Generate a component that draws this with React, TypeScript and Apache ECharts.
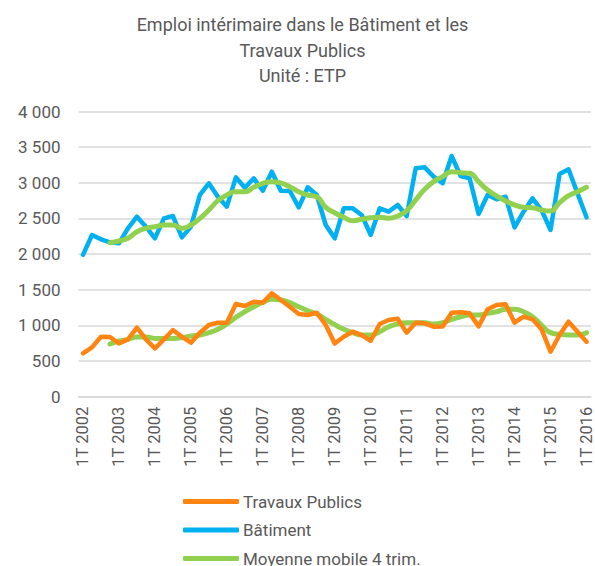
import React, { useEffect, useRef } from "react";
import * as echarts from "echarts";

const years = [2002, 2003, 2004, 2005, 2006, 2007, 2008, 2009, 2010, 2011, 2012, 2013, 2014, 2015, 2016];
const quarters: string[] = [];
years.forEach((y) => {
  for (let q = 1; q <= 4; q++) {
    if (y === 2016 && q > 1) break;
    quarters.push(`${q}T ${y}`);
  }
});

const batiment = [
  1990, 2268, 2207, 2165, 2151, 2362, 2525, 2384, 2221, 2502,
  2534, 2235, 2384, 2829, 2993, 2805, 2665, 3077, 2931, 3063,
  2889, 3156, 2889, 2885, 2656, 2937, 2829, 2408, 2221, 2642,
  2642, 2548, 2268, 2642, 2595, 2689, 2534, 3203, 3217, 3086,
  2993, 3376, 3095, 3063, 2562, 2829, 2768, 2805, 2375, 2595,
  2782, 2618, 2338, 3123, 3189, 2852, 2516,
];

const travauxPublics = [
  608, 692, 841, 837, 748, 804, 968, 804, 678, 804,
  935, 841, 757, 898, 1005, 1038, 1038, 1300, 1272, 1333,
  1319, 1450, 1356, 1262, 1160, 1146, 1178, 1005, 745, 841,
  912, 865, 785, 1020, 1076, 1094, 898, 1038, 1029, 982,
  986, 1178, 1183, 1169, 986, 1226, 1286, 1296, 1038, 1122,
  1085, 945, 631, 865, 1052, 912, 771,
];

const mmBatiment = [
  null, null, null, 2160, 2184, 2221, 2314, 2362, 2384, 2408,
  2408, 2362, 2408, 2502, 2618, 2749, 2829, 2875, 2875, 2937,
  2993, 3016, 2998, 2945, 2875, 2829, 2805, 2656, 2580, 2516,
  2469, 2488, 2511, 2516, 2502, 2534, 2609, 2759, 2908, 3016,
  3086, 3156, 3142, 3133, 3016, 2899, 2815, 2745, 2689, 2656,
  2651, 2618, 2604, 2721, 2819, 2875, 2937,
];

const mmTravauxPublics = [
  null, null, null, 739, 781, 804, 837, 837, 818, 818,
  818, 827, 851, 865, 898, 945, 1020, 1113, 1192, 1262,
  1324, 1366, 1356, 1319, 1262, 1206, 1160, 1085, 1010, 945,
  898, 865, 865, 912, 982, 1020, 1038, 1038, 1038, 1020,
  1038, 1085, 1122, 1146, 1146, 1169, 1192, 1226, 1226, 1192,
  1122, 1005, 898, 875, 865, 865, 898,
];

const yTicks = [0, 500, 1000, 1500, 2000, 2500, 3000, 3500, 4000];
const legendNames = ["Travaux Publics", "Bâtiment", "Moyenne mobile 4 trim."];

const TEXT = "#595959";
const FONT = "Roboto";

export default function App() {
  const ref = useRef<HTMLDivElement>(null);
  useEffect(() => {
    document.body.style.margin = "0";
    const chart = echarts.init(ref.current!, null, { renderer: "svg" });
    chart.setOption({
      animation: false,
      textStyle: { fontFamily: FONT },
      title: {
        text: "Emploi intérimaire dans le Bâtiment et les\nTravaux Publics\nUnité : ETP",
        left: 297.5,
        textAlign: "center",
        top: 7,
        textStyle: { fontSize: 18, fontWeight: "normal", color: TEXT, lineHeight: 25.5, fontFamily: FONT },
      },
      legend: legendNames.map((n, i) => ({
        orient: "vertical",
        left: 178,
        top: 488 + i * 28.5,
        itemWidth: 56,
        itemHeight: 5,
        icon: "roundRect",
        data: [n],
        textStyle: { fontSize: 17, color: TEXT, fontFamily: FONT, padding: [0, 0, 0, -1] },
      })),
      grid: { left: 78.5, right: 3.5, top: 111.5, bottom: 169.3 },
      xAxis: {
        type: "category",
        data: quarters,
        boundaryGap: true,
        axisLine: { show: true, lineStyle: { color: "#D9D9D9", width: 1.5 } },
        axisTick: { show: false },
        axisLabel: {
          rotate: 90,
          interval: (i: number) => i % 4 === 0,
          fontSize: 16.5,
          color: TEXT,
          fontFamily: FONT,
          margin: 10,
        },
      },
      yAxis: {
        type: "value",
        min: yTicks[0],
        max: yTicks[yTicks.length - 1],
        interval: 500,
        axisLine: { show: false },
        axisTick: { show: false },
        splitLine: { lineStyle: { color: "#D9D9D9", width: 1.5 } },
        axisLabel: {
          fontSize: 17,
          color: TEXT,
          fontFamily: FONT,
          margin: 18,
          formatter: (v: number) => String(v).replace(/\B(?=(\d{3})+(?!\d))/g, " "),
        },
      },
      series: [
        {
          name: "Bâtiment",
          type: "line",
          data: batiment,
          showSymbol: false,
          lineStyle: { color: "#00B0F0", width: 4.5, join: "round", cap: "round" },
          itemStyle: { color: "#00B0F0" },
        },
        {
          name: "Moyenne mobile 4 trim.",
          type: "line",
          data: mmBatiment,
          smooth: 0.5,
          showSymbol: false,
          lineStyle: { color: "#92D050", width: 5, cap: "round" },
          itemStyle: { color: "#92D050" },
        },
        {
          name: "Moyenne mobile 4 trim.",
          type: "line",
          data: mmTravauxPublics,
          smooth: 0.5,
          showSymbol: false,
          lineStyle: { color: "#92D050", width: 5, cap: "round" },
          itemStyle: { color: "#92D050" },
        },
        {
          name: "Travaux Publics",
          type: "line",
          data: travauxPublics,
          showSymbol: false,
          lineStyle: { color: "#FF8411", width: 4.5, join: "round", cap: "round" },
          itemStyle: { color: "#FF8411" },
        },
      ],
    });
    return () => chart.dispose();
  }, []);
  return <div ref={ref} style={{ width: 595, height: 566 }} />;
}
